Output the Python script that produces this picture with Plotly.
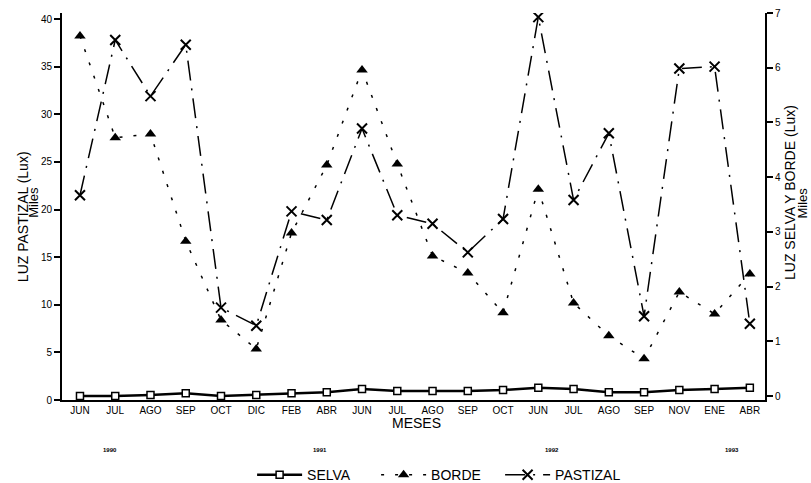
import plotly.graph_objects as go

meses = ["JUN", "JUL", "AGO", "SEP", "OCT", "DIC", "FEB", "ABR", "JUN", "JUL",
         "AGO", "SEP", "OCT", "JUN", "JUL", "AGO", "SEP", "NOV", "ENE", "ABR"]
# values in thousands of lux (Miles)
pastizal = [21.5, 37.8, 31.9, 37.3, 9.7, 7.8, 19.8, 18.9, 28.5, 19.4,
            18.5, 15.5, 19.0, 40.2, 21.0, 28.0, 8.8, 34.8, 35.0, 8.0]
borde = [6.58, 4.72, 4.79, 2.83, 1.39, 0.86, 2.98, 4.22, 5.96, 4.24,
         2.56, 2.25, 1.52, 3.78, 1.70, 1.10, 0.68, 1.90, 1.50, 2.23]
selva = [0.00, 0.00, 0.02, 0.05, 0.00, 0.02, 0.05, 0.07, 0.13, 0.09,
         0.09, 0.09, 0.11, 0.15, 0.13, 0.07, 0.07, 0.11, 0.13, 0.15]
anios = ["1990", "1991", "1992", "1993"]
anio_pos = [0.85, 6.8, 13.4, 18.5]

idx = list(range(len(meses)))
FONT = "Liberation Sans, Arial, sans-serif"

fig = go.Figure()
fig.add_trace(go.Scatter(
    x=idx, y=selva, name="SELVA", yaxis="y2", mode="lines+markers",
    line=dict(color="black", width=2.5),
    marker=dict(symbol="square", size=7, color="white", line=dict(color="black", width=1.5)),
))
fig.add_trace(go.Scatter(
    x=idx, y=borde, name="BORDE", yaxis="y2", mode="lines+markers",
    line=dict(color="black", width=1.5, dash="3px,11px"),
    marker=dict(symbol="triangle-up", size=10, color="black"),
))
fig.add_trace(go.Scatter(
    x=idx, y=pastizal, name="PASTIZAL", yaxis="y", mode="lines+markers",
    line=dict(color="black", width=1.5, dash="20px,8px,2px,8px"),
    marker=dict(symbol="x-thin", size=10, color="black", line=dict(color="black", width=2)),
))


def ann(text, x, y, size, angle=0, xref="paper"):
    return dict(text=text, xref=xref, yref="paper", x=x, y=y, textangle=angle,
                xanchor="center", yanchor="middle", showarrow=False,
                font=dict(size=size, family=FONT, color="black"))


annotations = [
    ann("LUZ PASTIZAL (Lux)", -0.0555, 0.475, 14, -90),
    ann("Miles", -0.041, 0.51, 13, -90),
    ann("LUZ SELVA Y BORDE (Lux)", 1.0356, 0.535, 14, -90),
    ann("Miles", 1.054, 0.51, 13, -90),
    ann("MESES", 0.5036, -0.0594, 14),
]
for a, p in zip(anios, anio_pos):
    annotations.append(ann("<b>" + a + "</b>", p, -0.129, 6, xref="x"))

fig.update_layout(
    width=811, height=483,
    margin=dict(l=62, r=46, t=13, b=83, autoexpand=False),
    paper_bgcolor="white", plot_bgcolor="white",
    font=dict(family=FONT, color="black", size=10),
    showlegend=True,
    legend=dict(orientation="h", x=0.535, xanchor="center", y=-0.194, yanchor="middle",
                font=dict(size=14, family=FONT), itemwidth=45, entrywidth=64,
                bgcolor="rgba(0,0,0,0)"),
    xaxis=dict(range=[-0.51, 19.43], tickvals=idx, ticktext=meses, showgrid=False,
               zeroline=False, showline=True, linecolor="black", linewidth=2,
               ticks="", tickfont=dict(size=10)),
    yaxis=dict(range=[0, 40.63], tickvals=[0, 5, 10, 15, 20, 25, 30, 35, 40],
               showgrid=False, zeroline=False, showline=True, linecolor="black",
               linewidth=2, ticks="outside", ticklen=6, tickwidth=1.5, tickcolor="black",
               tickfont=dict(size=10)),
    yaxis2=dict(range=[-0.073, 7], tickvals=[0, 1, 2, 3, 4, 5, 6, 7], overlaying="y",
                side="right", showgrid=False, zeroline=False, showline=True,
                linecolor="black", linewidth=2, ticks="outside", ticklen=6,
                tickwidth=1.5, tickcolor="black", tickfont=dict(size=10)),
    annotations=annotations,
)

fig.write_html("out.html", config={"displayModeBar": False},
               post_script="document.body.style.margin='0';")
